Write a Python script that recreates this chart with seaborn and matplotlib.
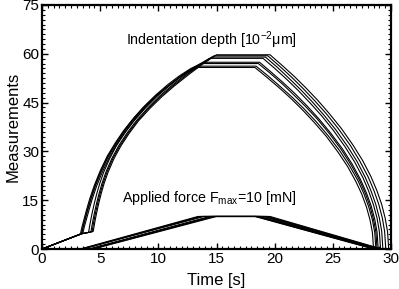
import pandas as pd
import matplotlib.pyplot as plt
import seaborn as sns
from matplotlib.ticker import MultipleLocator

sns.set_theme(style="ticks")
plt.rcParams['font.family'] = ['Liberation Sans', 'DejaVu Sans']
plt.rcParams['mathtext.fontset'] = 'custom'
plt.rcParams['mathtext.rm'] = 'Liberation Sans'
plt.rcParams['mathtext.default'] = 'regular'

# indentation depth curves [10^-2 um]
depth_t_1 = [0, 3.3, 3.45, 3.6, 3.8, 4.1, 4.5, 5.0, 5.6, 6.3, 7.0, 7.8, 8.7, 9.7, 10.7, 11.6, 12.5, 13.4,
             18.3, 19.32, 20.34, 21.36, 22.38, 23.4, 24.42, 25.44, 26.26, 26.97, 27.48, 27.89, 28.19, 28.4, 28.5]
depth_d_1 = [0, 4.6, 7.0, 9.0, 11.7, 15.4, 19.6, 24.0, 28.5, 32.6, 36.3, 39.9, 43.5, 46.9, 49.8, 52.2, 54.3, 55.8,
             55.8, 52.8, 49.7, 46.4, 42.8, 38.9, 34.7, 29.8, 25.4, 20.8, 16.9, 12.9, 9.0, 5.1, 0]
depth_t_2 = [0, 3.4, 3.55, 3.7, 3.9, 4.2, 4.6, 5.1, 5.7, 6.4, 7.1, 7.9, 8.8, 9.8, 10.8, 11.7, 12.6, 13.6,
             18.4, 19.43, 20.46, 21.49, 22.52, 23.55, 24.58, 25.61, 26.43, 27.16, 27.67, 28.08, 28.39, 28.6, 28.7]
depth_d_2 = [0, 4.7, 7.0, 9.0, 11.6, 15.3, 19.5, 23.9, 28.4, 32.5, 36.2, 39.9, 43.5, 47.0, 49.9, 52.4, 54.6, 56.2,
             56.2, 53.2, 50.0, 46.7, 43.1, 39.2, 34.9, 30.1, 25.6, 21.0, 17.0, 13.0, 9.1, 5.1, 0]
depth_t_3 = [0, 3.5, 3.65, 3.8, 4.0, 4.3, 4.7, 5.2, 5.8, 6.5, 7.2, 8.0, 8.9, 9.9, 10.9, 11.8, 12.8, 13.8,
             18.6, 19.62, 20.64, 21.66, 22.68, 23.7, 24.72, 25.74, 26.56, 27.27, 27.78, 28.19, 28.49, 28.7, 28.8]
depth_d_3 = [0, 4.8, 7.0, 8.9, 11.5, 15.2, 19.4, 23.8, 28.3, 32.5, 36.2, 39.9, 43.6, 47.1, 50.2, 52.8, 55.2, 57.0,
             57.0, 54.0, 50.8, 47.3, 43.7, 39.8, 35.4, 30.5, 25.9, 21.3, 17.2, 13.2, 9.2, 5.2, 0]
depth_t_4 = [0, 3.4, 3.55, 3.7, 3.9, 4.2, 4.6, 5.1, 5.7, 6.4, 7.1, 7.9, 8.8, 9.8, 10.8, 11.8, 12.8, 13.9,
             18.7, 19.72, 20.74, 21.76, 22.78, 23.8, 24.82, 25.84, 26.66, 27.37, 27.88, 28.29, 28.59, 28.8, 28.9]
depth_d_4 = [0, 4.7, 7.2, 9.2, 11.9, 15.6, 19.9, 24.3, 28.8, 32.9, 36.6, 40.3, 43.9, 47.4, 50.5, 53.2, 55.5, 57.4,
             57.4, 54.3, 51.1, 47.7, 44.0, 40.0, 35.6, 30.7, 26.1, 21.4, 17.3, 13.3, 9.3, 5.2, 0]
depth_t_5 = [0, 3.4, 4.0, 4.15, 4.3, 4.5, 4.7, 4.95, 5.3, 5.8, 6.4, 7.1, 7.9, 8.9, 9.9, 11.0, 12.2, 13.3, 14.4,
             19.0, 20.01, 21.02, 22.03, 23.04, 24.05, 25.06, 26.07, 26.88, 27.59, 28.09, 28.49, 28.8, 29.0, 29.1]
depth_d_5 = [0, 4.7, 5.1, 8.2, 10.9, 14.1, 16.9, 20.0, 23.6, 27.7, 31.8, 35.6, 39.4, 43.4, 47.0, 50.4, 53.8, 56.3, 58.6,
             58.6, 55.5, 52.2, 48.7, 44.9, 40.9, 36.4, 31.3, 26.7, 21.9, 17.7, 13.6, 9.5, 5.3, 0]
depth_t_6 = [0, 3.4, 4.2, 4.35, 4.5, 4.7, 4.9, 5.15, 5.5, 6.0, 6.6, 7.3, 8.1, 9.1, 10.1, 11.2, 12.4, 13.5, 14.6,
             19.2, 20.21, 21.22, 22.23, 23.24, 24.25, 25.26, 26.27, 27.08, 27.79, 28.29, 28.69, 29.0, 29.2, 29.3]
depth_d_6 = [0, 4.7, 5.2, 8.3, 11.0, 14.2, 17.0, 20.1, 23.7, 27.8, 31.8, 35.6, 39.4, 43.4, 47.0, 50.4, 53.8, 56.5, 59.0,
             59.0, 55.9, 52.5, 49.0, 45.2, 41.1, 36.6, 31.5, 26.9, 22.0, 17.8, 13.7, 9.5, 5.4, 0]
depth_t_7 = [0, 3.4, 4.3, 4.45, 4.6, 4.8, 5.0, 5.25, 5.6, 6.1, 6.7, 7.4, 8.2, 9.2, 10.2, 11.3, 12.5, 13.6, 14.8,
             19.4, 20.42, 21.43, 22.45, 23.46, 24.48, 25.49, 26.51, 27.32, 28.03, 28.54, 28.94, 29.25, 29.45, 29.55]
depth_d_7 = [0, 4.7, 5.3, 8.4, 11.1, 14.3, 17.1, 20.2, 23.8, 27.9, 31.8, 35.6, 39.4, 43.4, 46.9, 50.3, 53.7, 56.6, 59.4,
             59.4, 56.2, 52.9, 49.3, 45.5, 41.4, 36.9, 31.8, 27.0, 22.2, 17.9, 13.8, 9.6, 5.4, 0]
depth_t_8 = [0, 3.4, 4.4, 4.55, 4.7, 4.9, 5.1, 5.35, 5.7, 6.2, 6.8, 7.5, 8.3, 9.3, 10.3, 11.4, 12.6, 13.8, 15.0,
             19.6, 20.62, 21.64, 22.66, 23.68, 24.7, 25.72, 26.74, 27.56, 28.27, 28.78, 29.19, 29.49, 29.7, 29.8]
depth_d_8 = [0, 4.7, 5.4, 8.5, 11.2, 14.4, 17.2, 20.3, 23.8, 27.9, 31.8, 35.6, 39.4, 43.3, 46.8, 50.2, 53.6, 56.8, 59.7,
             59.7, 56.5, 53.2, 49.6, 45.8, 41.6, 37.1, 31.9, 27.2, 22.3, 18.0, 13.8, 9.6, 5.4, 0]

# applied force [mN]: start of loading, peak reached, unloading start, end
force_start = [3.3, 3.4, 3.5, 3.4, 4.0, 4.2, 4.3, 4.4]
force_peak = [13.4, 13.6, 13.8, 13.9, 14.4, 14.6, 14.8, 15.0]
force_hold_end = [18.3, 18.4, 18.6, 18.7, 19.0, 19.2, 19.4, 19.6]
force_end = [28.5, 28.6, 28.7, 28.8, 28.9, 29.0, 29.1, 29.2]
force_max = 10

depth_times = [depth_t_1, depth_t_2, depth_t_3, depth_t_4,
               depth_t_5, depth_t_6, depth_t_7, depth_t_8]
depth_values = [depth_d_1, depth_d_2, depth_d_3, depth_d_4,
                depth_d_5, depth_d_6, depth_d_7, depth_d_8]

rows = []
for i, (ts, ds) in enumerate(zip(depth_times, depth_values)):
    for t, d in zip(ts, ds):
        rows.append({'run': f'd{i}', 't': t, 'y': d})
for i in range(len(force_start)):
    pts = [(0, 0), (force_start[i], 0), (force_peak[i], force_max),
           (force_hold_end[i], force_max), (force_end[i], 0)]
    for t, f in pts:
        rows.append({'run': f'f{i}', 't': t, 'y': f})
df = pd.DataFrame(rows)

fig = plt.figure(figsize=(3.99, 2.89), dpi=100)
ax = fig.add_axes([0.1053, 0.1384, 0.8747, 0.8443])

sns.lineplot(data=df, x='t', y='y', units='run', estimator=None, sort=False,
             color='black', linewidth=0.8, ax=ax)

ax.set_xlim(0, 30)
ax.set_ylim(0, 75)
ax.xaxis.set_major_locator(MultipleLocator(5))
ax.xaxis.set_minor_locator(MultipleLocator(0.5))
ax.yaxis.set_major_locator(MultipleLocator(15))
ax.yaxis.set_minor_locator(MultipleLocator(1.5))
ax.tick_params(which='both', direction='in', top=True, right=True,
               labelsize=11, color='black', labelcolor='black', pad=2)
ax.tick_params(which='major', length=4.5, width=1.0)
ax.tick_params(which='minor', length=2.5, width=0.8)
for s in ax.spines.values():
    s.set_linewidth(1.6)
    s.set_color('black')
    s.set_visible(True)

ax.set_xlabel('Time [s]', fontsize=12, color='black', labelpad=5)
ax.set_ylabel('Measurements', fontsize=12, color='black', labelpad=1)

ax.text(7.2, 64.3, 'Indentation depth [10$^{-2}$μm]', fontsize=10.3,
        va='center', ha='left', color='black')
ax.text(6.9, 15.7, 'Applied force F$_{max}$=10 [mN]', fontsize=10.3,
        va='center', ha='left', color='black')

fig.savefig('out.png', dpi=100)
